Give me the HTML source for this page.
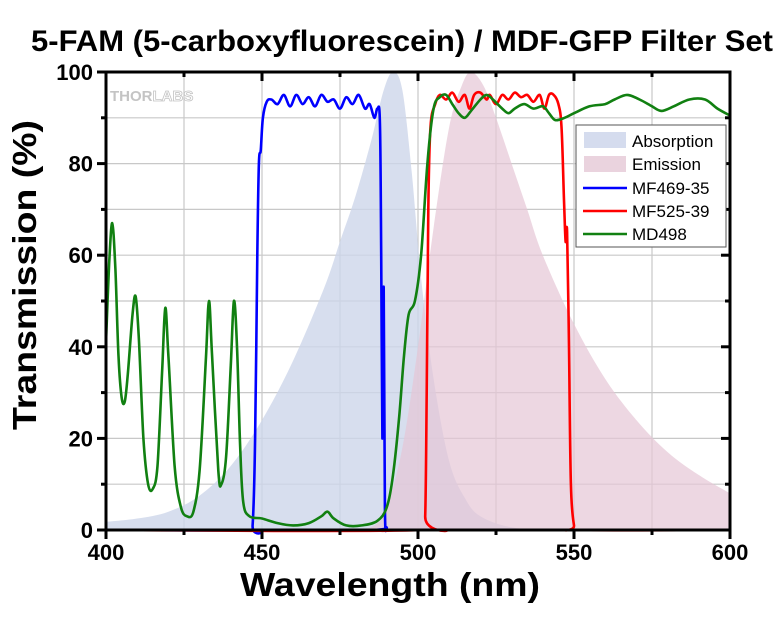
<!DOCTYPE html>
<html><head><meta charset="utf-8"><style>
body{margin:0;background:#fff;}
svg text{font-family:"Liberation Sans",Arial,sans-serif;}
</style></head><body>
<svg id="s" width="780" height="630" xmlns="http://www.w3.org/2000/svg">
<rect width="780" height="630" fill="#fff"/>
<text x="402" y="51" font-size="30" font-weight="bold" text-anchor="middle" textLength="742" lengthAdjust="spacingAndGlyphs">5-FAM (5-carboxyfluorescein) / MDF-GFP Filter Set</text>
<g id="grid" stroke="#c8c8c8" stroke-width="1.2"></g>
<text x="110" y="101" font-size="15" font-weight="bold" fill="#c4c4c4">THOR<tspan fill="#fff" stroke="#c4c4c4" stroke-width="0.8">LABS</tspan></text>
<path id="abs" fill="#cdd6ea" fill-opacity="0.8"/>
<path id="em" fill="#e5c6d5" fill-opacity="0.7"/>
<path id="blue" fill="none" stroke="#0000ff" stroke-width="2.6"/>
<path id="red" fill="none" stroke="#ff0000" stroke-width="2.6"/>
<path id="green" fill="none" stroke="#118011" stroke-width="2.6"/>
<g id="axes" stroke="#000" stroke-width="3" fill="none"></g>
<g id="lbl" font-size="22" font-weight="bold"></g>
<text x="390" y="596" font-size="33" font-weight="bold" text-anchor="middle" textLength="300" lengthAdjust="spacingAndGlyphs">Wavelength (nm)</text>
<text transform="translate(36,275) rotate(-90)" font-size="33" font-weight="bold" text-anchor="middle" textLength="310" lengthAdjust="spacingAndGlyphs">Transmission (%)</text>
<g>
<rect x="576" y="125" width="150" height="122" fill="#fff" stroke="#555" stroke-width="1"/>
<rect x="584" y="132" width="42" height="16" fill="#d5dcee"/>
<rect x="584" y="156" width="42" height="16" fill="#ead3de"/>
<line x1="583" y1="188" x2="627" y2="188" stroke="#0000ff" stroke-width="2.6"/>
<line x1="583" y1="211" x2="627" y2="211" stroke="#ff0000" stroke-width="2.6"/>
<line x1="583" y1="234" x2="627" y2="234" stroke="#118011" stroke-width="2.6"/>
<g font-size="17"><text x="632" y="147">Absorption</text><text x="632" y="170">Emission</text><text x="632" y="194">MF469-35</text><text x="632" y="217">MF525-39</text><text x="632" y="240">MD498</text></g>
</g>
</svg>
<script>
const X=w=>106+(w-400)*3.12, Y=t=>530-t*4.58;
function cr(pts){let p=pts.map(([w,t])=>[X(w),Y(t)]);let d=`M${p[0][0].toFixed(1)},${p[0][1].toFixed(1)}`;
for(let i=0;i<p.length-1;i++){const p0=p[Math.max(0,i-1)],p1=p[i],p2=p[i+1],p3=p[Math.min(p.length-1,i+2)];
const c1=[p1[0]+(p2[0]-p0[0])/6,p1[1]+(p2[1]-p0[1])/6],c2=[p2[0]-(p3[0]-p1[0])/6,p2[1]-(p3[1]-p1[1])/6];
d+=`C${c1[0].toFixed(1)},${c1[1].toFixed(1)} ${c2[0].toFixed(1)},${c2[1].toFixed(1)} ${p2[0].toFixed(1)},${p2[1].toFixed(1)}`;}return d;}
const g=document.getElementById('grid');let h='';
for(let w=425;w<600;w+=25)h+=`<line x1="${X(w)}" y1="72" x2="${X(w)}" y2="530"/>`;
for(let t=10;t<100;t+=10)h+=`<line x1="106" y1="${Y(t)}" x2="730" y2="${Y(t)}"/>`;g.innerHTML=h;
const abs=[[400,1.8],[410,2.5],[420,4],[430,7.5],[440,14],[450,24],[460,37],[470,53],[475,63],[480,73],[485,85],[489,96],[492,100],[495,96],[498,78],[501,55],[505,33],[510,15],[515,7],[520,3],[530,0.6],[545,0],[600,0]];
document.getElementById('abs').setAttribute('d',cr(abs)+`L${X(600)},${Y(0)}L${X(400)},${Y(0)}Z`);
const em=[[480,0],[486,1],[490,5],[495,18],[500,40],[505,66],[510,88],[514,97],[517,100],[521,97],[525,90],[530,80],[535,70],[540,60],[550,45],[560,33],[570,24],[580,17],[590,12],[600,8]];
document.getElementById('em').setAttribute('d',cr(em)+`L${X(600)},${Y(0)}L${X(480)},${Y(0)}Z`);
document.getElementById('blue').setAttribute('d',cr([[400,0],[446,0],[447,1],[447.8,20],[448.5,60],[449,80],[449.6,83],[450.3,90],[451.5,93.5],[453,94],[455,93],[457,95],[459,92.5],[461,95],[463,93],[465,94.5],[467,92.5],[469,95],[471,93.5],[473,94],[475,92],[477,94.5],[479,93],[481,95],[483,92],[484.5,93],[486,90],[487,92],[487.8,89],[488.2,60],[488.6,20],[489,53],[489.4,5],[490,0.5],[491,0],[600,0]]));
document.getElementById('red').setAttribute('d',cr([[400,0],[501.5,0],[502.3,3],[502.8,30],[503.3,70],[504,88],[505.5,93],[507,95],[509,94],[511,95.5],[513,93.5],[515,95],[516.5,92],[518,95],[520,95.5],[522,94],[523,95],[525,93],[527,95],[529,94],[531,95.5],[533,94.5],[535,95],[537,93.5],[539,95],[540.5,92],[542,95],[543.5,95],[545,93],[546,88],[546.8,72],[547.3,63],[547.8,65],[548.4,40],[549,10],[550,1],[551,0],[600,0]]));
document.getElementById('green').setAttribute('d',cr([[400,41],[401,58],[402,67],[403,57],[404,38],[405,29],[406,28],[407,34],[408.5,47],[409.5,51],[410.5,42],[412,20],[413.5,10],[415,9],[416.5,14],[418,35],[419,48.5],[420,38],[422,14],[424,5],[426,3],[428,4],[430,13],[432,37],[433,50],[434,38],[436,13],[437,10],[438.5,16],[440,36],[441,50],[442,40],[443,18],[444,6],[446,3],[450,2.5],[455,1.5],[460,1],[465,1.5],[469,3],[471,4],[473,2.5],[477,1],[482,1],[487,2],[490,5],[492,12],[494,25],[495.5,38],[497,47],[499,50],[501,60],[503,80],[505,92],[507,94.5],[509,95],[511,93],[513,91],[515,90],[517,91.5],[520,94],[522,95],[524,94],[527,92],[529,91],[531,92],[534,93],[537,92],[540,92.5],[542,91],[544,89.5],[547,90],[550,91],[555,92.5],[560,93],[563,94],[567,95],[571,94],[575,92.5],[578,91.5],[582,92.5],[587,94],[592,94],[596,92],[600,90.5]]));
let a='';a+=`<line x1="106" y1="72" x2="730" y2="72"/><line x1="106" y1="70.5" x2="106" y2="531.5"/><line x1="730" y1="70.5" x2="730" y2="531.5"/><line x1="104.5" y1="530" x2="731.5" y2="530"/>`;
for(let w=400;w<=600;w+=25){const big=w%50==0;a+=`<line x1="${X(w)}" y1="530" x2="${X(w)}" y2="${530+(big?9:5)}"/>`;if(w<600&&w>400)a+=`<line x1="${X(w)}" y1="72" x2="${X(w)}" y2="${72+(big?9:5)}"/>`;}
for(let t=0;t<=100;t+=10){const big=t%20==0;a+=`<line x1="106" y1="${Y(t)}" x2="${106-(big?9:5)}" y2="${Y(t)}"/>`;if(t>0&&t<100)a+=`<line x1="730" y1="${Y(t)}" x2="${730-(big?9:5)}" y2="${Y(t)}"/>`;}
document.getElementById('axes').innerHTML=a;
let l='';for(let w=400;w<=600;w+=50)l+=`<text x="${X(w)}" y="560" text-anchor="middle">${w}</text>`;
for(let t=0;t<=100;t+=20)l+=`<text x="93" y="${Y(t)+8}" text-anchor="end">${t}</text>`;
document.getElementById('lbl').innerHTML=l;
</script>
</body></html>
